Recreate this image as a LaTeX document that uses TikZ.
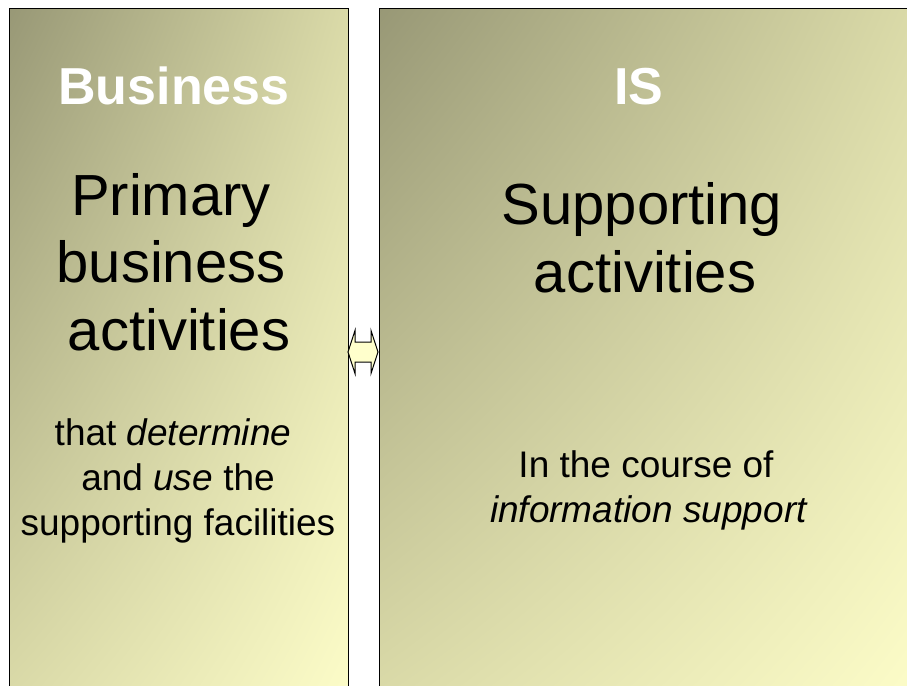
\documentclass[tikz,border=0pt]{standalone}
\usepackage{fontspec}
\setmainfont{Liberation Sans}
\usetikzlibrary{positioning,shadings}

\definecolor{olivedark}{RGB}{152,152,118}
\definecolor{olivemid}{RGB}{218,218,168}
\definecolor{olivepale}{RGB}{252,252,200}
\definecolor{arrowfill}{RGB}{255,255,204}

\tikzset{
  panel/.style={draw=black,line width=1pt,anchor=north west,inner sep=0pt,
    minimum height=684pt,shade,upper left=olivedark,upper right=olivemid,
    lower left=olivemid,lower right=olivepale},
  heading/.style={text=white,font=\fontsize{52}{60}\selectfont\bfseries,anchor=base},
  bigtext/.style={align=center,font=\fontsize{58}{67.5}\selectfont},
  smalltext/.style={align=center,font=\fontsize{37}{45}\selectfont}
}

\begin{document}
\begin{tikzpicture}[x=1pt,y=-1pt]
    \useasboundingbox (0,0) rectangle (907,685);

      \begin{scope}[every node/.style={panel}]
        \node (business) at (8.5,8.5)   [minimum width=339.5pt] {};
        \node (is)       at (378.5,8.5) [minimum width=532pt] {};
      \end{scope}

      \node[heading] (businesstitle) at (174,104) {Business};
      \node[heading] (istitle)       at (639,104) {IS};

      \node[bigtext] (primary)    at (171,262)
        {Primary\\business\\\hspace*{16pt}activities};
      \node[bigtext] (supporting) at (642,238)
        {Supporting\\\hspace*{6pt}activities};

      \node[smalltext] (determine) at (178,481)
        {that \textit{determine}\hspace*{10pt}\\and \textit{use} the\hspace*{20pt}\\supporting facilities};
      \node[smalltext] (course) at (649,490)
        {In the course of\hspace*{6pt}\\\textit{information support}};

      \coordinate (link) at (363,352);
      \draw[fill=arrowfill,line width=1pt,line join=miter]
        ([xshift=-15pt]link) -- ++(7,-21.5) -- ++(0,11.5) -- ++(16,0)
        -- ++(0,-11.5) -- ++(7,21.5) -- ++(-7,21.5) -- ++(0,-11.5)
        -- ++(-16,0) -- ++(0,11.5) -- cycle;

    \end{tikzpicture}
\end{document}
